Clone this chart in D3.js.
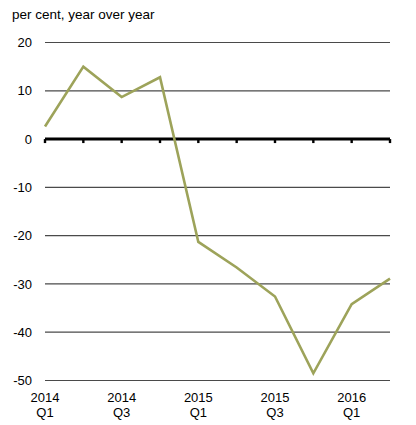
<!DOCTYPE html>
<html>
<head>
<meta charset="utf-8">
<script src="https://cdn.jsdelivr.net/npm/d3@7"></script>
<style>
  body { margin: 0; background: #fff; }
  text { font-family: "Liberation Sans", Arial, sans-serif; font-size: 13px; fill: #000; }
</style>
</head>
<body>
<svg id="chart" width="416" height="425"></svg>
<script>
// quarters, 2014 Q1 .. 2016 Q2
var quarters = ["2014Q1", "2014Q2", "2014Q3", "2014Q4", "2015Q1", "2015Q2", "2015Q3", "2015Q4", "2016Q1", "2016Q2"];
var values = [2.6, 15.0, 8.7, 12.8, -21.3, -26.6, -32.6, -48.5, -34.2, -28.9];
var yTicks = [20, 10, 0, -10, -20, -30, -40, -50];
var xLabels = {"2014Q1": ["2014", "Q1"], "2014Q3": ["2014", "Q3"], "2015Q1": ["2015", "Q1"], "2015Q3": ["2015", "Q3"], "2016Q1": ["2016", "Q1"]};

var margin = {top: 42.5, right: 26, bottom: 44.5, left: 45};
var width = 416 - margin.left - margin.right,
    height = 425 - margin.top - margin.bottom;

var svg = d3.select("#chart");
var g = svg.append("g").attr("transform", "translate(" + margin.left + "," + margin.top + ")");

var x = d3.scalePoint().domain(quarters).range([0, width]);
var y = d3.scaleLinear().domain([-50, 20]).range([height, 0]);

// title
svg.append("text").attr("x", 12).attr("y", 18.5).style("font-size", "13.5px").text("per cent, year over year");

// gridlines
g.selectAll(".grid").data(yTicks.filter(function(d) { return d !== 0; }))
  .enter().append("line")
  .attr("x1", 0).attr("x2", width)
  .attr("y1", function(d) { return y(d); }).attr("y2", function(d) { return y(d); })
  .attr("stroke", "#4a4a4a").attr("stroke-width", 1.2);

// y labels
g.selectAll(".ylab").data(yTicks).enter().append("text")
  .attr("x", -13).attr("y", function(d) { return y(d); })
  .attr("dy", "0.36em").attr("text-anchor", "end")
  .text(function(d) { return d; });

// zero axis with ticks
g.append("line")
  .attr("x1", 0).attr("x2", width)
  .attr("y1", y(0)).attr("y2", y(0))
  .attr("stroke", "#000").attr("stroke-width", 3);
g.selectAll(".tick").data(quarters).enter().append("rect")
  .attr("x", function(d) { return x(d) - 1.2; })
  .attr("y", y(0))
  .attr("width", 2.4).attr("height", 4)
  .attr("fill", "#000");

// x labels
var xl = g.selectAll(".xlab").data(quarters.filter(function(d) { return xLabels[d]; }))
  .enter().append("text")
  .attr("text-anchor", "middle")
  .attr("transform", function(d) { return "translate(" + x(d) + "," + (height + 21) + ")"; });
xl.append("tspan").attr("x", 0).attr("y", 0).text(function(d) { return xLabels[d][0]; });
xl.append("tspan").attr("x", 0).attr("y", 15).text(function(d) { return xLabels[d][1]; });

// series line
var line = d3.line()
  .x(function(d, i) { return x(quarters[i]); })
  .y(function(d) { return y(d); });

g.append("path").datum(values)
  .attr("d", line)
  .attr("fill", "none")
  .attr("stroke", "#9da35a")
  .attr("stroke-width", 2.6)
  .attr("stroke-linejoin", "miter");
</script>
</body>
</html>
